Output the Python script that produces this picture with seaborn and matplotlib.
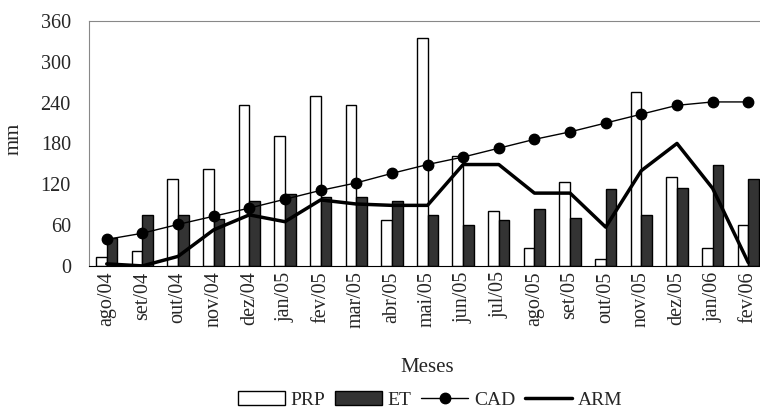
import numpy as np
import pandas as pd
import matplotlib
matplotlib.use('Agg')
import matplotlib.pyplot as plt
import seaborn as sns
from matplotlib.patches import Patch
from matplotlib.lines import Line2D

#Monthly data (mm)
meses = ['ago/04', 'set/04', 'out/04', 'nov/04', 'dez/04', 'jan/05', 'fev/05', 'mar/05', 'abr/05', 'mai/05',
         'jun/05', 'jul/05', 'ago/05', 'set/05', 'out/05', 'nov/05', 'dez/05', 'jan/06', 'fev/06']
prp = [13, 22, 128, 143, 237, 191, 250, 237, 67, 335, 161, 81, 27, 123, 10, 255, 131, 26, 60]
et = [41, 75, 75, 69, 95, 105, 102, 102, 95, 75, 60, 67, 84, 71, 113, 75, 115, 148, 128]
cad = [39, 48, 61, 73, 85, 98, 111, 122, 136, 149, 160, 173, 186, 197, 210, 223, 236, 241, 241]
arm = [3, 0, 14, 53, 75, 65, 97, 91, 89, 89, 149, 149, 107, 107, 57, 140, 180, 114, 5]

sns.set_style('white')
plt.rcParams['font.family'] = ['Liberation Serif', 'DejaVu Serif']

df = pd.DataFrame({'Meses': meses * 2, 'mm': prp + et, 'serie': ['PRP'] * len(meses) + ['ET'] * len(meses)})

fig = plt.figure(figsize=(7.6, 4.11), dpi=100)
ax = fig.add_axes([0.117, 0.353, 0.891, 0.596])

sns.barplot(data=df, x='Meses', y='mm', hue='serie', palette={'PRP': 'white', 'ET': '#333333'},
            width=0.6, edgecolor='black', linewidth=1, ax=ax, legend=False)

x = np.arange(len(meses))
ax.plot(x, cad, color='black', lw=1, marker='o', markersize=7.5, label='CAD')
ax.plot(x, arm, color='black', lw=2.5, label='ARM')

ax.set_xlim(-0.5, len(meses) - 0.5)
ax.set_ylim(0, 360)
ax.set_yticks(range(0, 361, 60))
ax.tick_params(axis='y', labelsize=14.5, length=0, pad=13)
ax.tick_params(axis='x', labelsize=14.5, length=0, rotation=90, pad=4)
ax.set_xlabel('Meses', fontsize=15, labelpad=21)
ax.set_ylabel('mm', fontsize=15)
ax.yaxis.set_label_coords(-0.097, 0.52)
for s in ['left', 'top', 'right']:
    ax.spines[s].set_color('#888888')
ax.spines['bottom'].set_color('black')

#Legend
handles = [Patch(facecolor='white', edgecolor='black', label='PRP'),
           Patch(facecolor='#333333', edgecolor='black', label='ET'),
           Line2D([], [], color='black', lw=1, marker='o', markersize=7.5, label='CAD'),
           Line2D([], [], color='black', lw=2.5, label='ARM')]
fig.legend(handles=handles, loc='center', bbox_to_anchor=(0.566, 0.027), ncol=4, frameon=False,
           fontsize=14, handlelength=2.4, handletextpad=0.3, columnspacing=0.5)

fig.savefig('out.png', dpi=100)
